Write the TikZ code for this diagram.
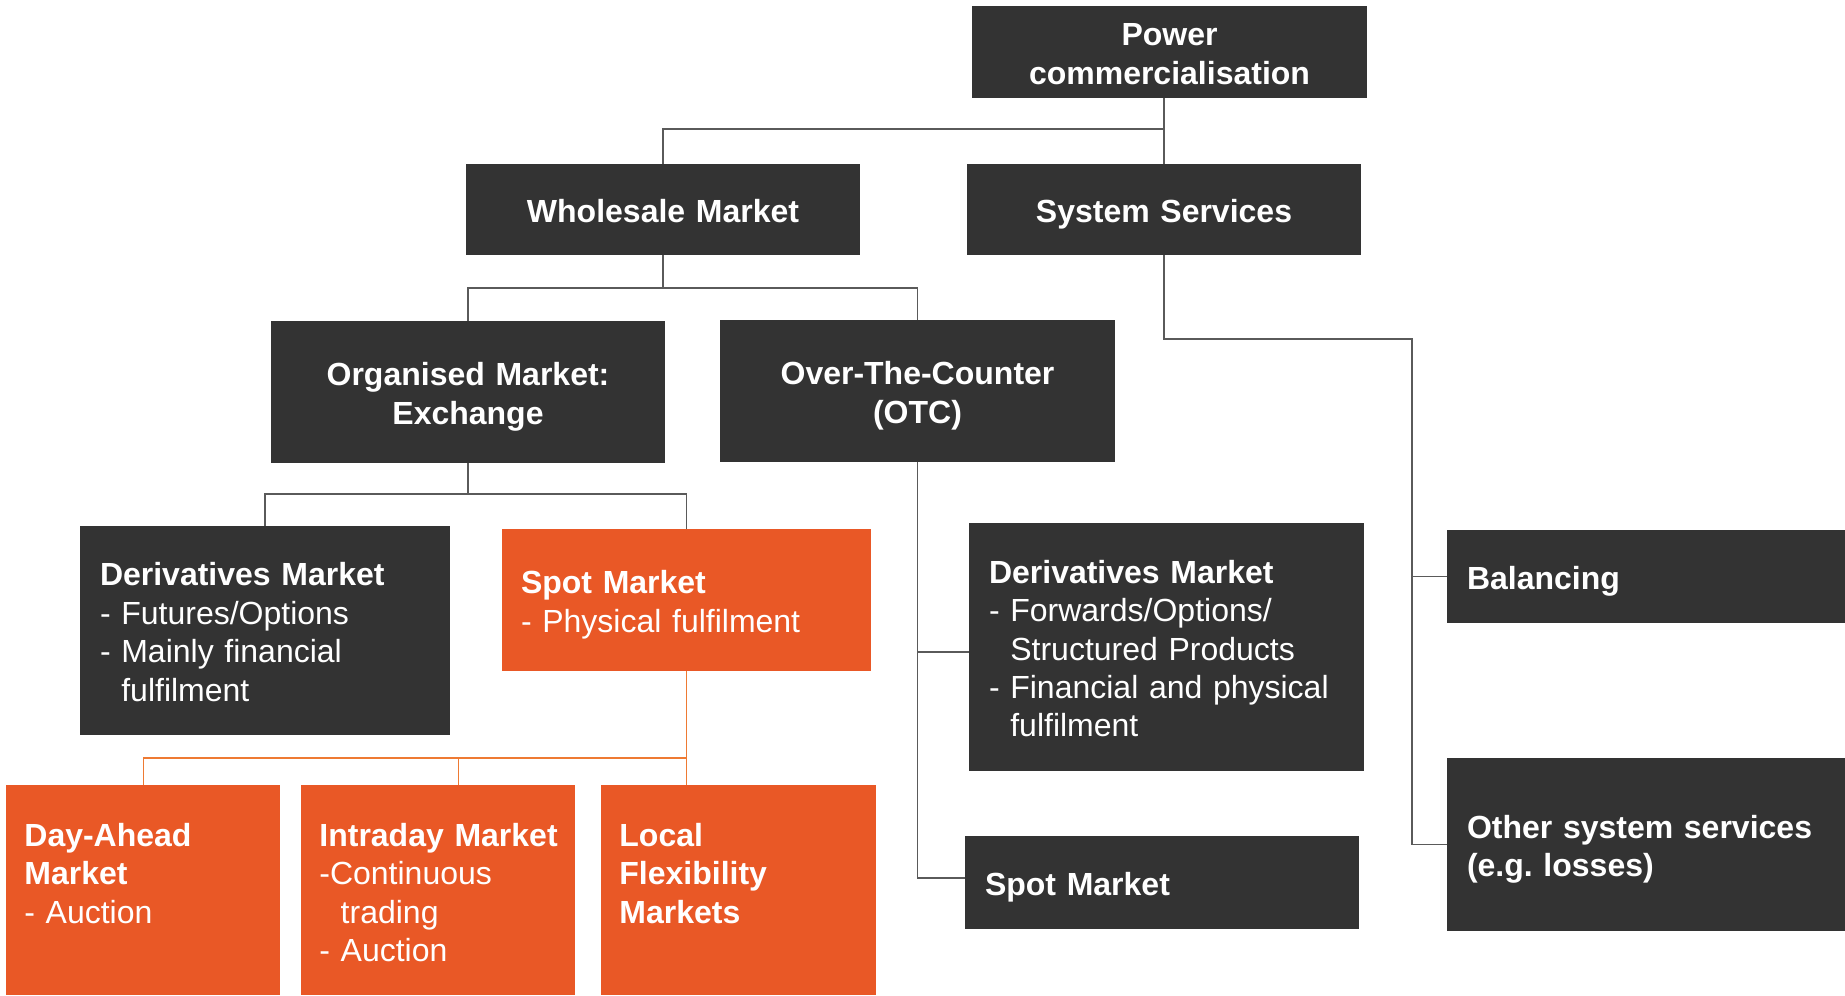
\documentclass[tikz,border=0pt]{standalone}
\usepackage{fontspec}
\setmainfont{Liberation Sans}
\usepackage{tikz}
\frenchspacing

\definecolor{boxgrey}{HTML}{333333}
\definecolor{boxorange}{HTML}{E95826}
\definecolor{linegrey}{HTML}{5A5A5A}
\definecolor{lineorange}{HTML}{EE7A33}
\newcommand{\indnt}{\hphantom{- }}
\newdimen\lsk \lsk=19.2pt

\begin{document}
\begin{tikzpicture}[x=0.5pt, y=-0.5pt,
  every node/.style={text=white, inner xsep=10pt, inner ysep=0pt, text height=13pt, text depth=0pt, font=\fontsize{16pt}{19.2pt}\selectfont},
  depthlines/.style={text depth=#1\lsk},
  darkbox/.style={fill=boxgrey, align=center, font=\fontsize{16pt}{19.2pt}\selectfont\bfseries},
  listbox/.style={fill=boxgrey, align=left},
  lowbox/.style={fill=boxorange, align=left, anchor=north west, inner xsep=9pt, text width=119pt, text height=30.5pt, text depth=74.5pt},
  gline/.style={draw=linegrey, line width=0.6pt},
  oline/.style={draw=lineorange, line width=0.6pt}]
  \useasboundingbox (0,0) rectangle (1845,995);

  \node (power) [darkbox, depthlines=1, text width=177.5pt, minimum height=46pt] at (1169.5,52) {Power\\commercialisation};
  \node (whole) [darkbox, text width=177pt, minimum height=45.5pt] at (663,209.5) {Wholesale Market};
  \node (sys) [darkbox, text width=177pt, minimum height=45.5pt] at (1164,209.5) {System Services};
  \node (org) [darkbox, depthlines=1, text width=177pt, minimum height=71pt] at (468,392) {Organised Market:\\Exchange};
  \node (otc) [darkbox, depthlines=1, text width=177.5pt, minimum height=71pt] at (917.5,391) {Over-The-Counter\\(OTC)};

  \node (derivL) [listbox, depthlines=3, text width=165pt, minimum height=104.5pt] at (265,630.5) {\textbf{Derivatives Market}\\- Futures/Options\\- Mainly financial\\\indnt fulfilment};
  \node (spotL) [listbox, depthlines=1, fill=boxorange, inner xsep=9.5pt, text width=165.5pt, minimum height=71pt] at (686.5,600) {\textbf{Spot Market}\\- Physical fulfilment};
  \node (derivR) [listbox, depthlines=4, text width=177.5pt, minimum height=124pt] at (1166.5,647) {\textbf{Derivatives Market}\\- Forwards/Options/\\\indnt Structured Products\\- Financial and physical\\\indnt fulfilment};
  \node (spotR) [listbox, text width=177pt, minimum height=46.5pt] at (1162,882.5) {\textbf{Spot Market}};
  \node (bal) [listbox, text width=179pt, minimum height=46.5pt] at (1646,576.5) {\textbf{Balancing}};
  \node (other) [listbox, depthlines=1, text width=179pt, minimum height=86.5pt] at (1646,844.5) {\textbf{Other system services}\\\textbf{(e.g. losses)}};

  \node (dayahead) [lowbox] at (6,785) {\textbf{Day-Ahead}\\\textbf{Market}\\- Auction};
  \node (intraday) [lowbox] at (301,785) {\mbox{\textbf{Intraday Market}}\\-Continuous\\\indnt trading\\- Auction};
  \node (local) [lowbox, text width=119.5pt] at (601,785) {\textbf{Local}\\\textbf{Flexibility}\\\textbf{Markets}};

  % power commercialisation
  \coordinate (pj) at (sys.north |- 0,129);
  \draw[gline] (power.south -| sys.north) -- (sys.north);
  \draw[gline] (pj) -| (whole.north);

  % wholesale
  \coordinate (wj) at (whole.south |- 0,288);
  \draw[gline] (whole.south) -- (wj);
  \draw[gline] (org.north) |- (wj) -| (otc.north);

  % exchange
  \coordinate (oj) at (org.south |- 0,494);
  \draw[gline] (org.south) -- (oj);
  \draw[gline] (derivL.north) |- (oj) -| (spotL.north);

  % spot market
  \coordinate (sj) at (spotL.south |- 0,758);
  \draw[oline] (spotL.south) -- (spotL.south |- local.north);
  \draw[oline] (dayahead.north) |- (sj);
  \draw[oline] ([xshift=10pt]intraday.north) -- ([xshift=10pt]intraday.north |- sj);

  % OTC
  \draw[gline] (otc.south) |- ([yshift=-2.5pt]derivR.west);
  \draw[gline] (otc.south) |- ([yshift=2.25pt]spotR.west);

  % system services
  \coordinate (ssj) at (sys.south |- 0,339);
  \coordinate (ssv) at (1412,339);
  \draw[gline] (sys.south) -- (ssj) -- (ssv) |- (other.west);
  \draw[gline] (ssv) |- (bal.west);
\end{tikzpicture}
\end{document}
